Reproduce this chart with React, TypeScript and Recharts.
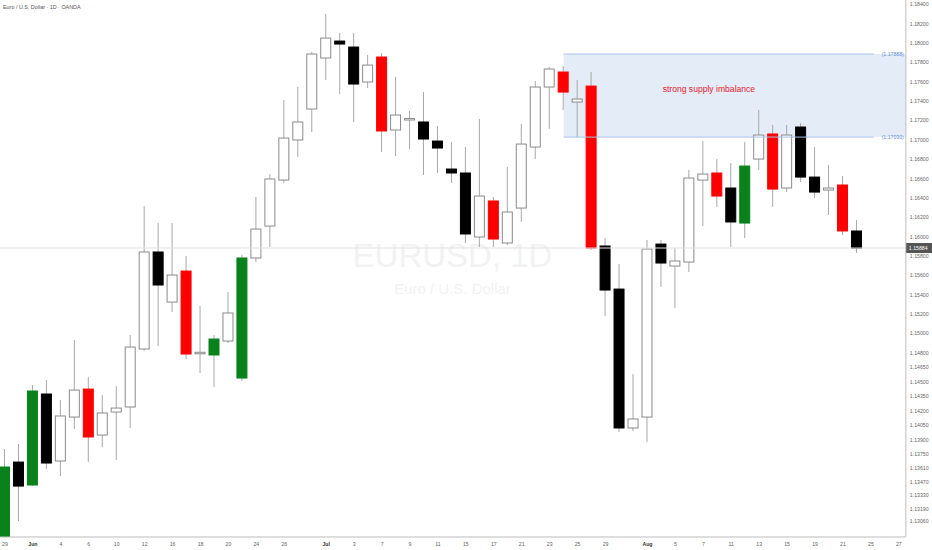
import React from 'react'
import {
  ComposedChart,
  Bar,
  XAxis,
  YAxis,
  ReferenceArea,
  ReferenceLine,
  ReferenceDot,
} from 'recharts'

// trading days, the last three are empty future slots
const dates = [
  'May 29', 'May 30', 'Jun 2', 'Jun 3', 'Jun 4', 'Jun 5', 'Jun 6', 'Jun 9', 'Jun 10', 'Jun 11',
  'Jun 12', 'Jun 13', 'Jun 16', 'Jun 17', 'Jun 18', 'Jun 19', 'Jun 20', 'Jun 23', 'Jun 24', 'Jun 25',
  'Jun 26', 'Jun 27', 'Jun 30', 'Jul 1', 'Jul 2', 'Jul 3', 'Jul 4', 'Jul 7', 'Jul 8', 'Jul 9',
  'Jul 10', 'Jul 11', 'Jul 14', 'Jul 15', 'Jul 16', 'Jul 17', 'Jul 18', 'Jul 21', 'Jul 22', 'Jul 23',
  'Jul 24', 'Jul 25', 'Jul 28', 'Jul 29', 'Jul 30', 'Jul 31', 'Aug 1', 'Aug 4', 'Aug 5', 'Aug 6',
  'Aug 7', 'Aug 8', 'Aug 11', 'Aug 12', 'Aug 13', 'Aug 14', 'Aug 15', 'Aug 18', 'Aug 19', 'Aug 20',
  'Aug 21', 'Aug 22', 'Aug 25', 'Aug 26', 'Aug 27',
]

const opens = [
  1.12816, 1.13673, 1.13436, 1.14376, 1.13684, 1.14138, 1.14427, 1.13952, 1.1419, 1.14242,
  1.14841, 1.15843, 1.15326, 1.15646, 1.14799, 1.14779, 1.14923, 1.14541, 1.15781, 1.16111,
  1.16586, 1.17, 1.1732, 1.17847, 1.18022, 1.1796, 1.17599, 1.17857, 1.17103, 1.17212,
  1.17186, 1.16989, 1.167, 1.16659, 1.15998, 1.1637, 1.15936, 1.16297, 1.16927, 1.17547,
  1.17702, 1.17392, 1.17557, 1.15905, 1.1546, 1.14025, 1.14138, 1.15925, 1.15698, 1.15739,
  1.16586, 1.16659, 1.16504, 1.16142, 1.16803, 1.17062, 1.16504, 1.17134, 1.16617, 1.16483,
  1.16535, 1.1606,
]
const highs = [
  1.13808, 1.13859, 1.14469, 1.1452, 1.14314, 1.14934, 1.14551, 1.14365, 1.14458, 1.14985,
  1.16318, 1.16142, 1.16142, 1.15801, 1.15285, 1.14985, 1.15429, 1.15812, 1.16411, 1.16648,
  1.17413, 1.17547, 1.17909, 1.18301, 1.18105, 1.18105, 1.17878, 1.17898, 1.1765, 1.17299,
  1.17495, 1.17144, 1.16979, 1.16927, 1.17217, 1.16411, 1.16721, 1.17165, 1.17609, 1.17754,
  1.17764, 1.17619, 1.17702, 1.15987, 1.15719, 1.14582, 1.15967, 1.15967, 1.15884, 1.1669,
  1.16989, 1.16803, 1.16762, 1.16979, 1.1731, 1.17155, 1.17155, 1.17175, 1.16927, 1.16741,
  1.16628, 1.16173,
]
const lows = [
  1.12764, 1.13064, 1.13425, 1.13601, 1.13529, 1.14014, 1.13673, 1.13828, 1.13694, 1.14025,
  1.1482, 1.14872, 1.15223, 1.14737, 1.14593, 1.14448, 1.14903, 1.1451, 1.15739, 1.15894,
  1.16555, 1.16824, 1.17082, 1.17619, 1.17475, 1.17186, 1.17537, 1.16876, 1.16834, 1.16907,
  1.16638, 1.16659, 1.16555, 1.15936, 1.15894, 1.15894, 1.15915, 1.16153, 1.16803, 1.17113,
  1.1731, 1.17031, 1.15863, 1.15182, 1.13983, 1.13994, 1.1388, 1.15481, 1.15264, 1.15636,
  1.16111, 1.16308, 1.15894, 1.15987, 1.1669, 1.16308, 1.16462, 1.16566, 1.16401, 1.16225,
  1.16018, 1.15832,
]
const closes = [
  1.13622, 1.13425, 1.14407, 1.13663, 1.14149, 1.14417, 1.13932, 1.1418, 1.14231, 1.14861,
  1.15843, 1.15502, 1.15605, 1.14789, 1.14807, 1.14944, 1.15213, 1.15781, 1.1608, 1.16597,
  1.1702, 1.17186, 1.17888, 1.18053, 1.17991, 1.17578, 1.17774, 1.17093, 1.17258, 1.17222,
  1.1701, 1.16917, 1.16659, 1.16029, 1.16421, 1.15977, 1.16256, 1.16958, 1.17547, 1.17733,
  1.17495, 1.17423, 1.15884, 1.1545, 1.14025, 1.14118, 1.15874, 1.15729, 1.1575, 1.16607,
  1.16648, 1.16421, 1.16153, 1.16731, 1.17051, 1.16493, 1.17051, 1.16617, 1.16462, 1.16504,
  1.1606, 1.15884,
]
// w = plain up candle, b = plain down candle, r / g = highlighted down / up candle
const tones = [
  'g', 'b', 'g', 'b', 'w', 'w', 'r', 'w', 'w', 'w',
  'w', 'b', 'w', 'r', 'w', 'g', 'w', 'g', 'w', 'w',
  'w', 'w', 'w', 'w', 'b', 'b', 'w', 'r', 'w', 'w',
  'b', 'b', 'b', 'b', 'w', 'r', 'w', 'w', 'w', 'w',
  'r', 'w', 'r', 'b', 'b', 'w', 'w', 'b', 'w', 'w',
  'w', 'r', 'b', 'g', 'w', 'r', 'w', 'b', 'b', 'w',
  'r', 'b',
]

const priceTicks = [
  1.184, 1.182, 1.18, 1.178, 1.176, 1.174, 1.172, 1.17, 1.168, 1.166, 1.164, 1.162, 1.16,
  1.158, 1.156, 1.154, 1.152, 1.15, 1.148, 1.1465, 1.145, 1.1435, 1.142, 1.1405, 1.139,
  1.1375, 1.1361, 1.1347, 1.1333, 1.1319, 1.1306,
]
const tickDates = [
  'May 29', 'Jun 2', 'Jun 4', 'Jun 6', 'Jun 10', 'Jun 12', 'Jun 16', 'Jun 18', 'Jun 20', 'Jun 24',
  'Jun 26', 'Jul 1', 'Jul 3', 'Jul 7', 'Jul 9', 'Jul 11', 'Jul 15', 'Jul 17', 'Jul 21', 'Jul 23',
  'Jul 25', 'Jul 29', 'Aug 1', 'Aug 5', 'Aug 7', 'Aug 11', 'Aug 13', 'Aug 15', 'Aug 19', 'Aug 21',
  'Aug 25', 'Aug 27',
]
const tickLabels = [
  '29', 'Jun', '4', '6', '10', '12', '16', '18', '20', '24',
  '26', 'Jul', '3', '7', '9', '11', '15', '17', '21', '23',
  '25', '29', 'Aug', '5', '7', '11', '13', '15', '19', '21',
  '25', '27',
]

const zoneStart = 'Jul 24'
const zoneTop = 1.17888
const zoneBottom = 1.1703
const zoneNote = 'strong supply imbalance'
const notePrice = 1.17526
const noteSlot = 50.9
const lastPrice = 1.15884
const yDomain = [1.12899, 1.18446]

const data = dates.map((date, i) => ({
  date,
  slot: i + 0.5,
  open: opens[i],
  high: highs[i],
  low: lows[i],
  close: closes[i],
  tone: tones[i],
  range: highs[i] == null ? null : [lows[i], highs[i]],
}))

const SLOT = 13.967
const PLOT_W = SLOT * dates.length
const AXIS_W = 932 + 2.48 - PLOT_W
const FONT = '"Liberation Sans", Arial, sans-serif'

const FILL: Record<string, string> = { w: '#ffffff', b: '#000000', r: '#ff0000', g: '#0a821c' }

const Candle = (props: any) => {
  const { x, y, width, height, payload } = props
  if (!payload || payload.high == null) return null
  const { open, close, high, low, tone } = payload
  const top = Math.min(y, y + height)
  const h = Math.abs(height)
  const k = high - low > 0 ? h / (high - low) : 0
  const yo = top + (high - open) * k
  const yc = top + (high - close) * k
  const bodyTop = Math.min(yo, yc)
  const bodyH = Math.max(Math.abs(yc - yo), 1.5)
  const cx = x + width / 2
  const white = tone === 'w'
  return (
    <g>
      <line x1={cx} x2={cx} y1={top} y2={top + h} stroke="#a8a8a8" strokeWidth={1} />
      <rect
        x={x + 0.5}
        y={bodyTop}
        width={width - 1}
        height={bodyH}
        fill={FILL[tone]}
        stroke={white ? '#8a8a8a' : FILL[tone]}
        strokeWidth={1}
      />
    </g>
  )
}

const DateTick = (props: any) => {
  const { x, y, payload } = props
  const label = tickLabels[tickDates.indexOf(payload.value)]
  if (label == null) return null
  const month = /[A-Za-z]/.test(label)
  return (
    <text
      x={x}
      y={y + 9}
      textAnchor="middle"
      fontSize={5.2}
      fontFamily={FONT}
      fontWeight={month ? 700 : 400}
      fill={month ? '#333' : '#5f5f5f'}
    >
      {label}
    </text>
  )
}

const PriceTag = (props: any) => {
  const vb = props.viewBox || {}
  const right = vb.x + vb.width
  return (
    <g>
      <rect x={right} y={vb.y - 5} width={AXIS_W} height={10} fill="#555555" />
      <text x={right + 3} y={vb.y + 2} fontSize={5.2} fontFamily={FONT} fill="#ffffff">
        {lastPrice.toFixed(5)}
      </text>
    </g>
  )
}

export default function App() {
  const zoneSlot = dates.indexOf(zoneStart) + 0.5
  const lineEnd = dates.length - 2.3
  return (
    <div
      style={{
        position: 'absolute',
        left: 0,
        top: 0,
        width: 932,
        height: 550,
        overflow: 'hidden',
        background: '#fff',
        fontFamily: FONT,
      }}
    >
      <div style={{ position: 'absolute', left: 3, top: 4, fontSize: 5.4, color: '#555' }}>
        Euro / U.S. Dollar · 1D · OANDA
      </div>
      <div
        style={{
          position: 'absolute',
          left: 0,
          width: 905,
          top: 237,
          textAlign: 'center',
          fontSize: 33,
          color: '#f2f2f2',
        }}
      >
        EURUSD, 1D
      </div>
      <div
        style={{
          position: 'absolute',
          left: 0,
          width: 905,
          top: 280,
          textAlign: 'center',
          fontSize: 15,
          color: '#f2f2f2',
        }}
      >
        Euro / U.S. Dollar
      </div>
      <div style={{ position: 'absolute', left: -2.48, top: 0 }}>
        <ComposedChart
          width={PLOT_W + AXIS_W}
          height={550}
          data={data}
          margin={{ top: 0, right: 0, bottom: 0, left: 0 }}
        >
          <XAxis
            xAxisId="c"
            dataKey="date"
            ticks={tickDates}
            interval={0}
            height={13}
            tickSize={0}
            tickMargin={0}
            tickLine={false}
            axisLine={{ stroke: '#bdbdbd' }}
            tick={<DateTick />}
          />
          <XAxis
            xAxisId="n"
            dataKey="slot"
            type="number"
            domain={[0, dates.length]}
            hide
            allowDataOverflow
          />
          <YAxis
            orientation="right"
            width={AXIS_W}
            domain={yDomain}
            allowDataOverflow
            ticks={priceTicks}
            interval={0}
            tickSize={0}
            tickMargin={4}
            tickLine={false}
            axisLine={{ stroke: '#bdbdbd' }}
            tick={{ fontSize: 5.2, fill: '#666', fontFamily: FONT }}
            tickFormatter={(v: number) => v.toFixed(5)}
          />
          <ReferenceArea
            xAxisId="n"
            x1={zoneSlot}
            x2={dates.length}
            y1={zoneBottom}
            y2={zoneTop}
            fill="#c9d9f0"
            fillOpacity={0.5}
            stroke="none"
            ifOverflow="visible"
          />
          <ReferenceLine
            xAxisId="n"
            segment={[
              { x: zoneSlot, y: zoneTop },
              { x: lineEnd, y: zoneTop },
            ]}
            stroke="#a9c3e8"
            strokeWidth={1}
          />
          <ReferenceLine
            xAxisId="n"
            segment={[
              { x: zoneSlot, y: zoneBottom },
              { x: lineEnd, y: zoneBottom },
            ]}
            stroke="#a9c3e8"
            strokeWidth={1}
          />
          <ReferenceLine
            xAxisId="n"
            y={zoneTop}
            stroke="none"
            label={{ value: `(${zoneTop.toFixed(5)})`, position: 'insideRight', offset: 2, fontSize: 5.2, fill: '#5d8fd6' }}
          />
          <ReferenceLine
            xAxisId="n"
            y={zoneBottom}
            stroke="none"
            label={{ value: `(${zoneBottom.toFixed(5)})`, position: 'insideRight', offset: 2, fontSize: 5.2, fill: '#5d8fd6' }}
          />
          <ReferenceLine xAxisId="n" y={lastPrice} stroke="#e2e2e2" strokeWidth={1} label={<PriceTag />} />
          <ReferenceDot
            xAxisId="n"
            x={noteSlot}
            y={notePrice}
            r={0}
            fill="none"
            stroke="none"
            label={{ value: zoneNote, position: 'center', fontSize: 8.6, fill: '#e5212b' }}
          />
          <Bar
            xAxisId="c"
            dataKey="range"
            barSize={11}
            shape={<Candle />}
            isAnimationActive={false}
          />
        </ComposedChart>
      </div>
    </div>
  )
}
